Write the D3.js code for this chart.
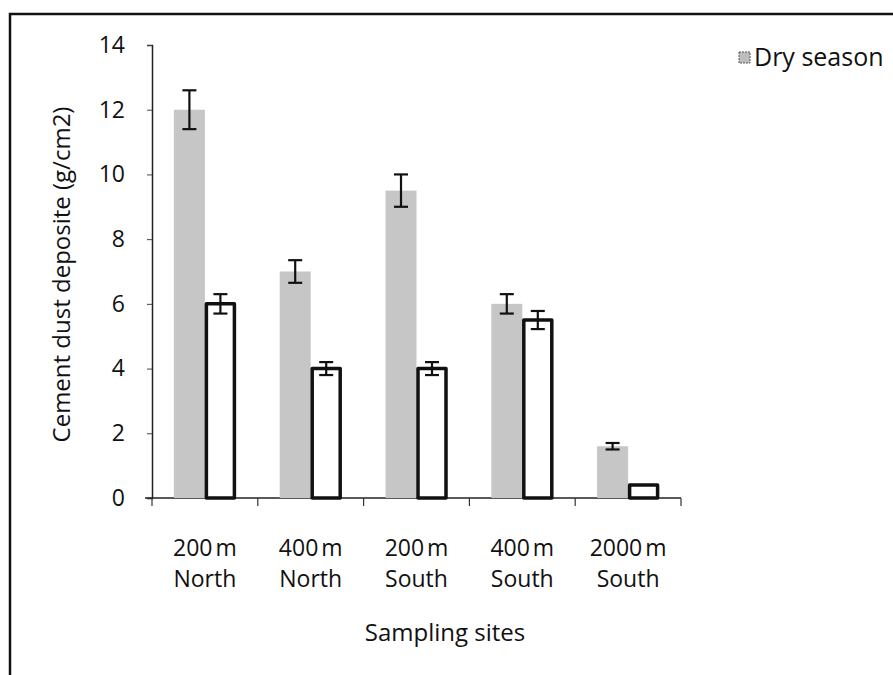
<!DOCTYPE html>
<html>
<head>
<meta charset="utf-8">
<script src="https://cdn.jsdelivr.net/npm/d3@7"></script>
<style>
  body { margin: 0; background: #fff; }
  text { font-family: "Open Sans", "Noto Sans", sans-serif; fill: #111; }
</style>
</head>
<body>
<div id="chart"></div>
<script>
// sites along the x axis (two-line labels)
const sites = ["200 m|North", "400 m|North", "200 m|South", "400 m|South", "2000 m|South"];
// dry season values and their error bars
const dryValues = [12, 7, 9.5, 6, 1.6];
const dryErrors = [0.6, 0.35, 0.5, 0.3, 0.1];
// second series (white bars), not named in the legend
const wetValues = [6, 4, 4, 5.5, 0.4];
const wetErrors = [0.3, 0.2, 0.2, 0.28, 0];
const yTicks = [0, 2, 4, 6, 8, 10, 12, 14];

const width = 893, height = 675;
const margin = { left: 152, right: 212, top: 45, bottom: 177 };

const svg = d3.select("#chart").append("svg")
  .attr("width", width)
  .attr("height", height);

// outer frame of the scanned figure
svg.append("path")
  .attr("d", `M10,${height} L10,14 L${width},14`)
  .attr("fill", "none")
  .attr("stroke", "#111")
  .attr("stroke-width", 2.5);

const x = d3.scaleBand()
  .domain(sites)
  .range([margin.left, width - margin.right])
  .paddingInner(0)
  .paddingOuter(0);

const y = d3.scaleLinear()
  .domain([0, 14])
  .range([height - margin.bottom, margin.top]);

const barW = 31;
const offset = (x.bandwidth() - 2 * barW) / 2;

// y axis
const yAxis = svg.append("g")
  .attr("transform", `translate(${margin.left},0)`)
  .call(d3.axisLeft(y).tickValues(yTicks).tickSize(5).tickPadding(22));
yAxis.select(".domain").attr("stroke", "#222").attr("stroke-width", 1.5);
yAxis.selectAll(".tick line").attr("stroke", "#444");
yAxis.selectAll(".tick text")
  .style("font-size", "23px")
  .style("font-family", "'Open Sans', sans-serif")
  .attr("fill", "#111");

// x axis: line with ticks at band boundaries
const xg = svg.append("g");
xg.append("line")
  .attr("x1", margin.left - 7).attr("x2", width - margin.right)
  .attr("y1", y(0)).attr("y2", y(0))
  .attr("stroke", "#222").attr("stroke-width", 1.5);
const bounds = sites.map(s => x(s)).concat([x(sites[sites.length - 1]) + x.bandwidth()]);
xg.selectAll("line.tk")
  .data(bounds)
  .enter().append("line")
  .attr("class", "tk")
  .attr("x1", d => d).attr("x2", d => d)
  .attr("y1", y(0)).attr("y2", y(0) + 8)
  .attr("stroke", "#333").attr("stroke-width", 1.2);

// x labels, two lines each
const lbl = svg.selectAll("text.site")
  .data(sites)
  .enter().append("text")
  .attr("class", "site")
  .attr("text-anchor", "middle")
  .style("font-size", "23px")
  .style("word-spacing", "-3px");
lbl.each(function(d) {
  const parts = d.split("|");
  const t = d3.select(this);
  parts.forEach((p, i) => {
    t.append("tspan")
      .attr("x", x(d) + x.bandwidth() / 2)
      .attr("y", 556 + i * 31)
      .text(p);
  });
});

// dry season bars (grey)
svg.selectAll("rect.dry")
  .data(dryValues)
  .enter().append("rect")
  .attr("class", "dry")
  .attr("x", (d, i) => x(sites[i]) + offset)
  .attr("y", d => y(d))
  .attr("width", barW)
  .attr("height", d => y(0) - y(d))
  .attr("fill", "#c6c6c6");

// second series (white with thick outline)
svg.selectAll("rect.wet")
  .data(wetValues)
  .enter().append("rect")
  .attr("class", "wet")
  .attr("x", (d, i) => x(sites[i]) + offset + barW + 1.5)
  .attr("y", d => y(d))
  .attr("width", barW - 3)
  .attr("height", d => y(0) - y(d))
  .attr("fill", "#fff")
  .attr("stroke", "#111")
  .attr("stroke-width", 3.5)
  .attr("stroke-linejoin", "round");

// error bars
function errorBars(values, errors, dx, cls) {
  const g = svg.selectAll("g." + cls)
    .data(values.map((v, i) => ({ v, e: errors[i], i })).filter(d => d.e > 0))
    .enter().append("g")
    .attr("class", cls)
    .attr("stroke", "#111")
    .attr("stroke-width", 2.2);
  const cx = d => x(sites[d.i]) + offset + dx;
  g.append("line")
    .attr("x1", cx).attr("x2", cx)
    .attr("y1", d => y(d.v + d.e)).attr("y2", d => y(d.v - d.e));
  g.append("line")
    .attr("x1", d => cx(d) - 7).attr("x2", d => cx(d) + 7)
    .attr("y1", d => y(d.v + d.e)).attr("y2", d => y(d.v + d.e));
  g.append("line")
    .attr("x1", d => cx(d) - 7).attr("x2", d => cx(d) + 7)
    .attr("y1", d => y(d.v - d.e)).attr("y2", d => y(d.v - d.e));
}
errorBars(dryValues, dryErrors, barW / 2, "edry");
errorBars(wetValues, wetErrors, barW * 1.5, "ewet");

// axis titles
svg.append("text")
  .attr("transform", `translate(70,${(y(0) + y(14)) / 2 + 3}) rotate(-90)`)
  .attr("text-anchor", "middle")
  .style("font-size", "24px")
  .text("Cement dust deposite (g/cm2)");

svg.append("text")
  .attr("x", 445).attr("y", 641)
  .attr("text-anchor", "middle")
  .style("font-size", "24px")
  .text("Sampling sites");

// legend
svg.append("rect")
  .attr("x", 739).attr("y", 52)
  .attr("width", 11).attr("height", 11)
  .attr("fill", "#bdbdbd")
  .attr("stroke", "#555")
  .attr("stroke-dasharray", "2,1");
svg.append("text")
  .attr("x", 754).attr("y", 66)
  .style("font-size", "25px")
  .text("Dry season");
</script>
</body>
</html>
